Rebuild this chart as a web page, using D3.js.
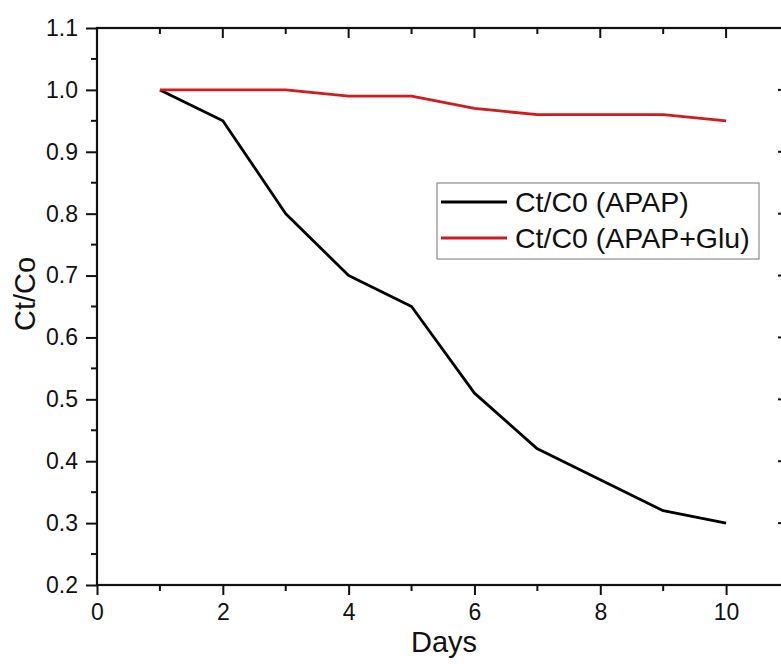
<!DOCTYPE html>
<html><head><meta charset="utf-8">
<script src="https://cdn.jsdelivr.net/npm/d3@7"></script>
<style>body{margin:0;background:#fff}svg{display:block}text{font-family:"Liberation Sans",Arial,sans-serif;fill:#111}</style>
</head><body><svg id="c" width="781" height="670"></svg>
<script>
const days = [1,2,3,4,5,6,7,8,9,10];
const apap = [1.0,0.95,0.80,0.70,0.65,0.51,0.42,0.37,0.32,0.30];
const apapGlu = [1.0,1.0,1.0,0.99,0.99,0.97,0.96,0.96,0.96,0.95];
const seriesNames = ["Ct/C0 (APAP)","Ct/C0 (APAP+Glu)"];
const xTicks = [0,2,4,6,8,10];
const yTicks = [0.2,0.3,0.4,0.5,0.6,0.7,0.8,0.9,1.0,1.1];

const svg = d3.select("#c");
const x = d3.scaleLinear().domain([0,11]).range([97,789]);
const y = d3.scaleLinear().domain([0.2,1.1]).range([585,28]);
const xMinor = d3.range(0,12,1), yMinor = d3.range(0.2,1.1001,0.05).map(v=>+v.toFixed(2));

// bottom axis
const gB = svg.append("g").attr("transform","translate(0,585)")
  .call(d3.axisBottom(x).tickValues(xTicks).tickSize(10).tickPadding(9).tickFormat(d3.format("d")));
gB.select(".domain").remove();
gB.selectAll("text").attr("font-size",23).attr("fill","#111");
gB.selectAll("line").attr("stroke","#111").attr("stroke-width",2);
svg.append("g").selectAll("line").data(xMinor.filter(v=>v%2)).join("line")
  .attr("x1",d=>x(d)).attr("x2",d=>x(d)).attr("y1",585).attr("y2",591).attr("stroke","#111").attr("stroke-width",2);
// top axis ticks (inward)
svg.append("g").selectAll("line").data(xMinor).join("line")
  .attr("x1",d=>x(d)).attr("x2",d=>x(d)).attr("y1",28).attr("y2",d=>d%2?34:38).attr("stroke","#111").attr("stroke-width",2);

// left axis
const gL = svg.append("g").attr("transform","translate(97,0)")
  .call(d3.axisLeft(y).tickValues(yTicks).tickSize(11).tickPadding(8).tickFormat(d3.format(".1f")));
gL.select(".domain").remove();
gL.selectAll("text").attr("font-size",23).attr("fill","#111");
gL.selectAll("line").attr("stroke","#111").attr("stroke-width",2);
svg.append("g").selectAll("line").data(yMinor.filter(v=>Math.round(v*100)%10)).join("line")
  .attr("x1",91).attr("x2",97).attr("y1",d=>y(d)).attr("y2",d=>y(d)).attr("stroke","#111").attr("stroke-width",2);
// right axis ticks (inward)
svg.append("g").selectAll("line").data(yMinor).join("line")
  .attr("x1",d=>Math.round(d*100)%10?783:778).attr("x2",789).attr("y1",d=>y(d)).attr("y2",d=>y(d)).attr("stroke","#111").attr("stroke-width",2);

// frame
svg.append("rect").attr("x",97).attr("y",28).attr("width",789-97).attr("height",585-28)
  .attr("fill","none").attr("stroke","#111").attr("stroke-width",2.2);

// lines
const line = d3.line().x((d,i)=>x(days[i])).y(d=>y(d));
svg.append("path").datum(apap).attr("d",line).attr("fill","none").attr("stroke","#000").attr("stroke-width",2.8).attr("stroke-linejoin","round");
svg.append("path").datum(apapGlu).attr("d",line).attr("fill","none").attr("stroke","#d01c1c").attr("stroke-width",2.8).attr("stroke-linejoin","round");

// axis titles
svg.append("text").attr("x",444).attr("y",652).attr("text-anchor","middle").attr("font-size",29).text("Days");
svg.append("text").attr("transform","translate(35,294) rotate(-90)").attr("text-anchor","middle").attr("font-size",29).text("Ct/Co");

// legend
const lg = svg.append("g");
lg.append("rect").attr("x",437).attr("y",183).attr("width",322).attr("height",76).attr("fill","#fff").attr("stroke","#777").attr("stroke-width",1);
const colors = ["#000","#d01c1c"];
seriesNames.forEach((n,i)=>{
  const yy = 202 + i*36;
  lg.append("line").attr("x1",441).attr("x2",507).attr("y1",yy).attr("y2",yy).attr("stroke",colors[i]).attr("stroke-width",2.8);
  lg.append("text").attr("x",515).attr("y",yy+10).attr("font-size",28.5).text(n);
});
</script></body></html>
